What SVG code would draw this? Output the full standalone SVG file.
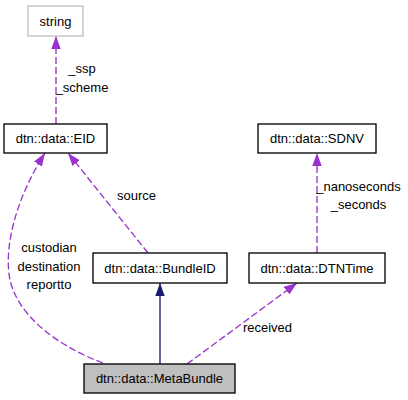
<svg xmlns="http://www.w3.org/2000/svg" width="408" height="400" viewBox="0 0 408 400">
<style>
text{font-family:"Liberation Sans",Arial,sans-serif;font-size:13px;fill:#000;text-anchor:middle}
.box{fill:#fff;stroke:#000;stroke-width:1.33}
.gray{fill:#fff;stroke:#bfbfbf;stroke-width:1.33}
.cur{fill:#bfbfbf;stroke:#000;stroke-width:1.33}
.use{fill:none;stroke:#9a32cd;stroke-width:1.33;stroke-dasharray:7,3}
.inh{fill:none;stroke:#191970;stroke-width:1.33}
</style>
<defs>
<marker id="ap" markerUnits="userSpaceOnUse" markerWidth="14" markerHeight="10" refX="13" refY="4.7" orient="auto">
<path d="M0,0 L13,4.7 L0,9.4 z" fill="#9a32cd"/>
</marker>
<marker id="an" markerUnits="userSpaceOnUse" markerWidth="14" markerHeight="10" refX="13" refY="4.7" orient="auto">
<path d="M0,0 L13,4.7 L0,9.4 z" fill="#191970"/>
</marker>
</defs>
<g id="connectors">
<path class="use" d="M56,124 L56,36" marker-end="url(#ap)"/>
<path class="use" d="M148,253 L68,153" marker-end="url(#ap)"/>
<path class="use" d="M103,363 C55,345 18,315 10,280 C3,245 18,195 45,153" marker-end="url(#ap)"/>
<path class="use" d="M317,253 L317,153" marker-end="url(#ap)"/>
<path class="use" d="M187,364 L297,283" marker-end="url(#ap)"/>
<path class="inh" d="M160,364 L160,283" marker-end="url(#an)"/>
<text x="82" y="73">_ssp</text>
<text x="82" y="92">_scheme</text>
<text x="136.5" y="200">source</text>
<text x="49" y="252">custodian</text>
<text x="49" y="270.5">destination</text>
<text x="49" y="289">reportto</text>
<text x="358.5" y="191">_nanoseconds</text>
<text x="358.5" y="209">_seconds</text>
<text x="267.5" y="332">received</text>
</g>
<g id="string">
<rect class="gray" x="28" y="6" width="55" height="30"/>
<text x="55.5" y="25.5">string</text>
</g>
<g id="EID">
<rect class="box" x="4" y="124" width="103" height="29"/>
<text x="55.5" y="143">dtn::data::EID</text>
</g>
<g id="SDNV">
<rect class="box" x="258" y="124" width="118" height="29"/>
<text x="317" y="143">dtn::data::SDNV</text>
</g>
<g id="BundleID">
<rect class="box" x="93" y="253" width="134" height="30"/>
<text x="160" y="272.5">dtn::data::BundleID</text>
</g>
<g id="DTNTime">
<rect class="box" x="249" y="253" width="136" height="30"/>
<text x="317" y="272.5">dtn::data::DTNTime</text>
</g>
<g id="MetaBundle">
<rect class="cur" x="84" y="364" width="151" height="29"/>
<text x="159.5" y="382.5">dtn::data::MetaBundle</text>
</g>
</svg>
